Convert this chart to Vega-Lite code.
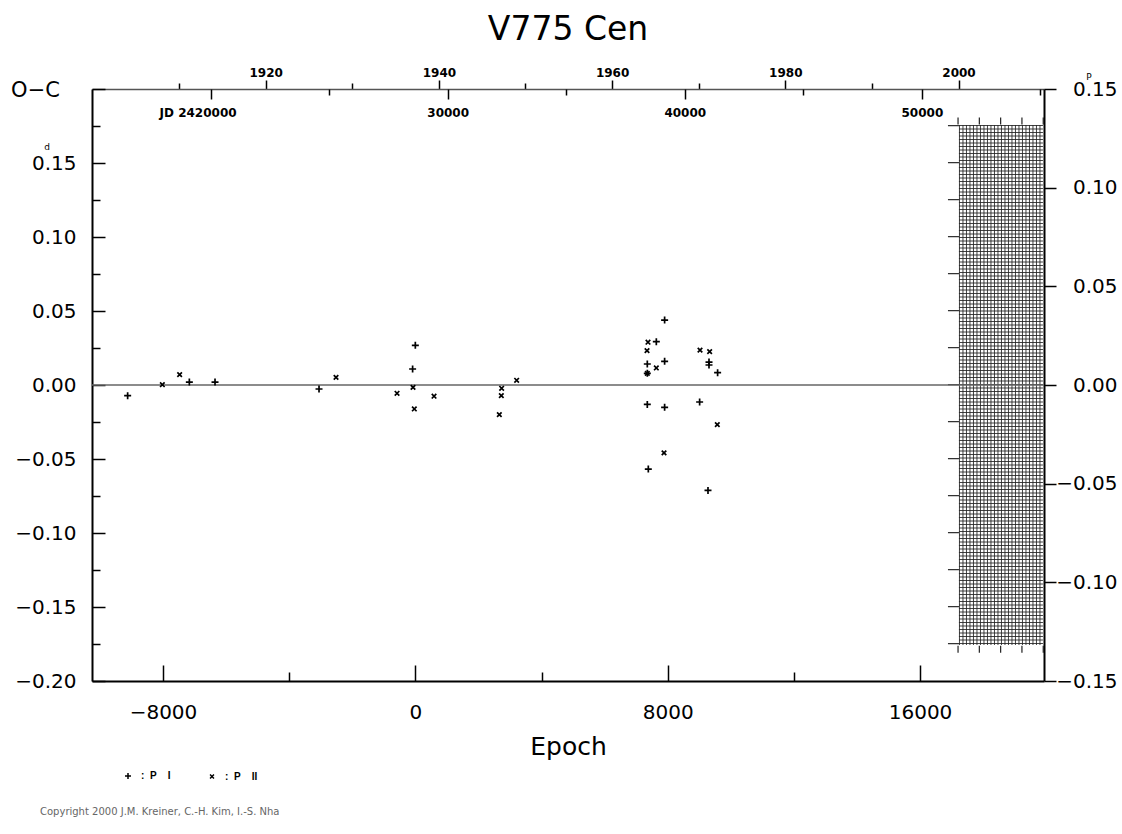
{
  "$schema": "https://vega.github.io/schema/vega-lite/v6.json",
  "width": 952,
  "height": 592,
  "autosize": {"type": "none"},
  "padding": {"left": 92, "top": 89, "right": 78, "bottom": 153},
  "background": "white",
  "config": {
    "view": {"stroke": null},
    "axis": {"grid": false, "labelColor": "black", "tickColor": "black", "domainColor": "black", "titleColor": "black", "labelFont": "DejaVu Sans", "titleFont": "DejaVu Sans", "titleFontWeight": "normal", "labelOverlap": false, "labelFlush": false, "labelBound": false, "tickWidth": 1.5, "domainWidth": 2},
    "legend": {"orient": "none", "legendX": 31, "legendY": 682, "direction": "horizontal", "labelFont": "Liberation Sans", "labelFontWeight": "bold", "labelFontSize": 10, "labelColor": "black", "symbolStrokeColor": "black", "symbolStrokeWidth": 1.5, "symbolSize": 36, "labelOffset": 8, "columnPadding": 36, "padding": 0}
  },
  "title": {"text": "V775 Cen", "font": "DejaVu Sans", "fontSize": 33, "fontWeight": "normal", "color": "black", "anchor": "middle", "offset": 19},
  "layer": [
    {
      "data": {"values": [{"epoch": 17234, "epoch2": 19897, "oc": 0}]},
      "mark": {"type": "rule", "strokeWidth": 520, "strokeDash": [1, 2.5], "color": "#222", "opacity": 0.85},
      "encoding": {
        "x": {"field": "epoch", "type": "quantitative", "scale": {"domain": [-10250, 19930], "nice": false, "zero": false}, "axis": null},
        "x2": {"field": "epoch2"},
        "y": {"field": "oc", "type": "quantitative", "scale": {"domain": [-0.2, 0.2], "nice": false, "zero": false}, "axis": null}
      }
    },
    {
      "data": {"values": [{"epoch": 18565, "oc": 0.1757, "oc2": -0.1757}]},
      "mark": {"type": "rule", "strokeWidth": 84, "strokeDash": [1, 2.5], "color": "#222", "opacity": 0.85},
      "encoding": {
        "x": {"field": "epoch", "type": "quantitative", "scale": {"domain": [-10250, 19930], "nice": false, "zero": false}, "axis": null},
        "y": {"field": "oc", "type": "quantitative", "scale": {"domain": [-0.2, 0.2], "nice": false, "zero": false}, "axis": null},
        "y2": {"field": "oc2"}
      }
    },
    {
      "data": {"values": [{"epoch": 17060, "oc": 0.1757, "oc2": -0.18}]},
      "mark": {"type": "rule", "strokeWidth": 11, "strokeDash": [1.2, 35.8], "color": "#333"},
      "encoding": {
        "x": {"field": "epoch", "type": "quantitative", "scale": {"domain": [-10250, 19930], "nice": false, "zero": false}, "axis": null},
        "y": {"field": "oc", "type": "quantitative", "scale": {"domain": [-0.2, 0.2], "nice": false, "zero": false}, "axis": null},
        "y2": {"field": "oc2"}
      }
    },
    {
      "data": {"values": [{"epoch": 17186, "epoch2": 19930, "oc": 0.1784}, {"epoch": 17186, "epoch2": 19930, "oc": -0.1785}]},
      "mark": {"type": "rule", "strokeWidth": 7, "strokeDash": [1.2, 20.1], "color": "#222"},
      "encoding": {
        "x": {"field": "epoch", "type": "quantitative", "scale": {"domain": [-10250, 19930], "nice": false, "zero": false}, "axis": null},
        "x2": {"field": "epoch2"},
        "y": {"field": "oc", "type": "quantitative", "scale": {"domain": [-0.2, 0.2], "nice": false, "zero": false}, "axis": null}
      }
    },
    {
      "data": {"values": [{"oc": 0}]},
      "mark": {"type": "rule", "strokeWidth": 1.5, "color": "#666"},
      "encoding": {
        "y": {"field": "oc", "type": "quantitative", "scale": {"domain": [-0.2, 0.2], "nice": false, "zero": false}, "axis": null}
      }
    },
    {
      "data": {"values": [
        {"epoch": -9120, "oc": -0.0072, "type": "P I"},
        {"epoch": -7164, "oc": 0.0020, "type": "P I"},
        {"epoch": -6350, "oc": 0.0020, "type": "P I"},
        {"epoch": -3053, "oc": -0.0027, "type": "P I"},
        {"epoch": 0, "oc": 0.0268, "type": "P I"},
        {"epoch": -86, "oc": 0.0108, "type": "P I"},
        {"epoch": 7903, "oc": 0.0439, "type": "P I"},
        {"epoch": 7640, "oc": 0.0293, "type": "P I"},
        {"epoch": 7903, "oc": 0.0160, "type": "P I"},
        {"epoch": 7354, "oc": 0.0142, "type": "P I"},
        {"epoch": 7354, "oc": 0.0079, "type": "P I"},
        {"epoch": 9310, "oc": 0.0155, "type": "P I"},
        {"epoch": 9310, "oc": 0.0135, "type": "P I"},
        {"epoch": 9583, "oc": 0.0083, "type": "P I"},
        {"epoch": 7354, "oc": -0.0131, "type": "P I"},
        {"epoch": 7903, "oc": -0.0151, "type": "P I"},
        {"epoch": 9013, "oc": -0.0115, "type": "P I"},
        {"epoch": 7386, "oc": -0.0568, "type": "P I"},
        {"epoch": 9278, "oc": -0.0712, "type": "P I"},
        {"epoch": -8020, "oc": 0.0002, "type": "P II"},
        {"epoch": -7472, "oc": 0.0070, "type": "P II"},
        {"epoch": -2514, "oc": 0.0052, "type": "P II"},
        {"epoch": -580, "oc": -0.0056, "type": "P II"},
        {"epoch": -73, "oc": -0.0016, "type": "P II"},
        {"epoch": -32, "oc": -0.0162, "type": "P II"},
        {"epoch": 593, "oc": -0.0076, "type": "P II"},
        {"epoch": 2736, "oc": -0.0022, "type": "P II"},
        {"epoch": 2726, "oc": -0.0072, "type": "P II"},
        {"epoch": 2663, "oc": -0.0200, "type": "P II"},
        {"epoch": 3212, "oc": 0.0032, "type": "P II"},
        {"epoch": 7376, "oc": 0.0289, "type": "P II"},
        {"epoch": 7345, "oc": 0.0232, "type": "P II"},
        {"epoch": 7640, "oc": 0.0115, "type": "P II"},
        {"epoch": 7354, "oc": 0.0079, "type": "P II"},
        {"epoch": 9025, "oc": 0.0236, "type": "P II"},
        {"epoch": 9330, "oc": 0.0225, "type": "P II"},
        {"epoch": 9573, "oc": -0.0268, "type": "P II"},
        {"epoch": 7884, "oc": -0.0459, "type": "P II"}
      ]},
      "mark": {"type": "point", "filled": false, "strokeWidth": 1.7, "opacity": 1, "size": 49, "color": "black"},
      "encoding": {
        "x": {"field": "epoch", "type": "quantitative", "scale": {"domain": [-10250, 19930], "nice": false, "zero": false},
          "axis": {"orient": "bottom", "values": [-8000, -4000, 0, 4000, 8000, 12000, 16000], "format": "d", "labelExpr": "datum.value % 8000 === 0 ? datum.label : ''", "tickSize": {"condition": {"test": "datum.value % 8000 === 0", "value": -16}, "value": -9}, "labelPadding": 37, "labelFontSize": 20, "title": "Epoch", "titleFontSize": 25, "titlePadding": 5}},
        "y": {"field": "oc", "type": "quantitative", "scale": {"domain": [-0.2, 0.2], "nice": false, "zero": false},
          "axis": {"orient": "left", "values": [-0.2, -0.175, -0.15, -0.125, -0.1, -0.075, -0.05, -0.025, 0, 0.025, 0.05, 0.075, 0.1, 0.125, 0.15, 0.175, 0.2], "format": ".2f", "labelExpr": "(abs(round(datum.value*1000)) % 50 === 0 && datum.value < 0.19) ? datum.label : ''", "tickSize": {"condition": {"test": "abs(round(datum.value*1000)) % 50 === 0", "value": -13}, "value": -8}, "labelPadding": 29, "labelFontSize": 20, "title": "O−C", "titleAngle": 0, "titleX": -57, "titleY": 1, "titleAlign": "center", "titleBaseline": "middle", "titleFontSize": 21}},
        "shape": {"field": "type", "type": "nominal", "scale": {"domain": ["P I", "P II"], "range": ["M-1,0L1,0M0,-1L0,1", "M-0.65,-0.65L0.65,0.65M0.65,-0.65L-0.65,0.65"]},
          "legend": {"title": null, "labelExpr": "':\u00a0\u00a0P\u00a0\u00a0\u00a0\u00a0' + (datum.label === 'P I' ? 'I' : 'II')"}}
      }
    },
    {
      "data": {"values": [{"epoch": -11677, "oc": 0.1608, "txt": "d"}, {"epoch": 21355, "oc": 0.2081, "txt": "P"}]},
      "mark": {"type": "text", "font": "DejaVu Sans", "fontSize": 9, "color": "black", "align": "center", "baseline": "middle"},
      "encoding": {
        "x": {"field": "epoch", "type": "quantitative", "scale": {"domain": [-10250, 19930], "nice": false, "zero": false}, "axis": null},
        "y": {"field": "oc", "type": "quantitative", "scale": {"domain": [-0.2, 0.2], "nice": false, "zero": false}, "axis": null},
        "text": {"field": "txt"}
      }
    },
    {
      "data": {"values": [{"epoch": -11898, "oc": -0.2885, "txt": "Copyright 2000 J.M. Kreiner, C.-H. Kim, I.-S. Nha"}]},
      "mark": {"type": "text", "font": "DejaVu Sans", "fontSize": 10, "color": "#666", "align": "left", "baseline": "middle"},
      "encoding": {
        "x": {"field": "epoch", "type": "quantitative", "scale": {"domain": [-10250, 19930], "nice": false, "zero": false}, "axis": null},
        "y": {"field": "oc", "type": "quantitative", "scale": {"domain": [-0.2, 0.2], "nice": false, "zero": false}, "axis": null},
        "text": {"field": "txt"}
      }
    },
    {
      "data": {"values": [{"year": 1950}]},
      "mark": {"type": "point", "opacity": 0},
      "encoding": {
        "x": {"field": "year", "type": "quantitative", "scale": {"domain": [1899.945, 2009.87], "nice": false, "zero": false},
          "axis": {"orient": "top", "values": [1910, 1920, 1930, 1940, 1950, 1960, 1970, 1980, 1990, 2000], "format": "d", "labelExpr": "datum.value % 20 === 0 ? datum.label : ''", "tickSize": {"condition": {"test": "datum.value % 20 === 0", "value": 9}, "value": 6}, "labelPadding": 1, "labelFontSize": 12, "labelFontWeight": "bold", "title": null, "domainColor": "#555", "domainWidth": 1.5}}
      }
    },
    {
      "data": {"values": [{"jd": 2430000}]},
      "mark": {"type": "point", "opacity": 0},
      "encoding": {
        "x": {"field": "jd", "type": "quantitative", "scale": {"domain": [2415000, 2455150], "nice": false, "zero": false},
          "axis": {"orient": "bottom", "offset": -592, "values": [2420000, 2425000, 2430000, 2435000, 2440000, 2445000, 2450000, 2455000], "format": "d", "labelExpr": "datum.value % 10000 === 0 ? (datum.value === 2420000 ? 'JD 2420000' : format(datum.value - 2400000, 'd')) : ''", "labelOffset": {"condition": {"test": "datum.value === 2420000", "value": -13}, "value": 0}, "tickSize": {"condition": {"test": "datum.value % 10000 === 0", "value": 10}, "value": 6}, "labelPadding": 8, "labelFontSize": 12, "labelFontWeight": "bold", "title": null, "domain": false}}
      }
    },
    {
      "data": {"values": [{"p": 0}]},
      "mark": {"type": "point", "opacity": 0},
      "encoding": {
        "y": {"field": "p", "type": "quantitative", "scale": {"domain": [-0.15, 0.15], "nice": false, "zero": false},
          "axis": {"orient": "right", "values": [-0.15, -0.1, -0.05, 0, 0.05, 0.1, 0.15], "format": ".2f", "tickSize": 12, "labelPadding": 61, "labelAlign": "right", "labelFontSize": 20, "title": null}}
      }
    }
  ],
  "resolve": {"scale": {"x": "independent", "y": "independent"}}
}
